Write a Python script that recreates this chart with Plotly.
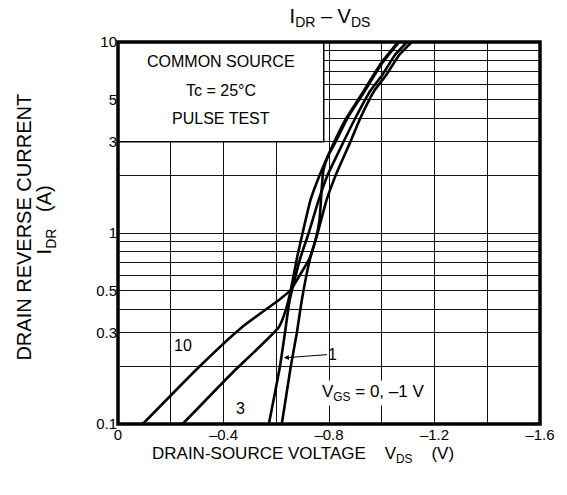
import math
import plotly.graph_objects as go

FONT = "Liberation Sans, Arial, Helvetica, sans-serif"

# -----------------------------
# DATA
# -----------------------------
# V_GS = 10 V
vds_10 = [-0.094, -0.309, -0.471, -0.610, -0.655, -0.685, -0.723, -0.749, -0.764,
          -0.772, -0.779, -0.798, -0.825, -0.870, -0.926, -1.002, -1.066]
idr_10 = [0.1, 0.2, 0.322, 0.446, 0.503, 0.588, 0.722, 0.919, 1.17,
          1.68, 2.14, 2.56, 3.0, 4.0, 5.28, 7.76, 10]

# V_GS = 3 V
vds_3 = [-0.245, -0.433, -0.610, -0.636, -0.655, -0.681, -0.700, -0.730, -0.764,
         -0.820, -0.866, -0.922, -0.998, -1.062]
idr_3 = [0.1, 0.185, 0.322, 0.395, 0.503, 0.767, 1.0, 1.49, 2.0,
         3.0, 4.0, 5.28, 7.76, 10]

# V_GS = 1 V
vds_1 = [-0.572, -0.614, -0.633, -0.651, -0.689, -0.723, -0.761, -0.794,
         -0.855, -0.900, -0.956, -1.002, -1.050, -1.096]
idr_1 = [0.1, 0.2, 0.3, 0.446, 0.722, 1.0, 1.49, 2.0,
         3.0, 4.0, 5.54, 6.72, 8.55, 10]

# V_GS = 0, -1 V
vds_0 = [-0.621, -0.655, -0.678, -0.697, -0.727, -0.757, -0.791, -0.825,
         -0.881, -0.919, -0.971, -1.017, -1.066, -1.114]
idr_0 = [0.1, 0.2, 0.3, 0.446, 0.722, 1.0, 1.49, 2.0,
         3.0, 4.0, 5.54, 6.72, 8.55, 10]

x_grid = [0, -0.2, -0.4, -0.6, -0.8, -1.0, -1.2, -1.4, -1.6]
x_labels = ["0", "", "–0.4", "", "–0.8", "", "–1.2", "", "–1.6"]

y_grid = [0.1, 0.2, 0.3, 0.4, 0.5, 0.6, 0.7, 0.8, 0.9,
          1, 2, 3, 4, 5, 6, 7, 8, 9, 10]
y_labels = ["0.1", "", "0.3", "", "0.5", "", "", "", "",
            "1", "", "3", "", "5", "", "", "", "", "10"]

fig = go.Figure()

for xs, ys in [(vds_10, idr_10), (vds_3, idr_3), (vds_1, idr_1), (vds_0, idr_0)]:
    fig.add_trace(go.Scatter(
        x=xs, y=ys, mode="lines",
        line=dict(color="black", width=2.6, shape="spline", smoothing=0.5),
        showlegend=False, hoverinfo="skip"
    ))

# page body has an 8px margin, so the figure is 8px smaller than the window
fig.update_layout(
    width=559, height=487, autosize=False,
    margin=dict(l=110, r=24, t=34, b=71),
    paper_bgcolor="white", plot_bgcolor="white",
    font=dict(family=FONT, size=16, color="black"),
    title=dict(text="I<sub>DR</sub> – V<sub>DS</sub>", x=0.576, xanchor="center",
               y=0.9836, yanchor="middle", font=dict(size=20)),
)

fig.update_xaxes(
    range=[0, -1.6], tickvals=x_grid, ticktext=x_labels,
    showgrid=True, gridcolor="#111", gridwidth=1, zeroline=False,
    ticks="", tickfont=dict(size=15), showline=False,
)
fig.update_yaxes(
    type="log", range=[-1, 1], tickvals=y_grid, ticktext=y_labels,
    showgrid=True, gridcolor="#111", gridwidth=1, zeroline=False,
    ticks="", tickfont=dict(size=15), showline=False,
)

# condition box in the upper left corner, hides the grid
fig.add_shape(type="rect", xref="x", yref="paper", x0=0, x1=-0.78,
              y0=(math.log10(3) + 1) / 2, y1=1,
              fillcolor="white", line=dict(color="black", width=1.5))
# heavy frame
fig.add_shape(type="rect", xref="paper", yref="paper", x0=0, x1=1, y0=0, y1=1,
              line=dict(color="black", width=3.5))

box_lines = ["COMMON SOURCE", "Tc = 25°C", "PULSE TEST"]
box_y = [0.950, 0.874, 0.801]
for t, yy in zip(box_lines, box_y):
    fig.add_annotation(text=t, xref="x", yref="paper", x=-0.392, y=yy,
                       yanchor="middle", showarrow=False, font=dict(size=16))

# curve labels
fig.add_annotation(text="10", x=-0.248, y=math.log10(0.259), showarrow=False,
                   bgcolor="white", font=dict(size=16))
fig.add_annotation(text="3", x=-0.463, y=math.log10(0.121), showarrow=False,
                   font=dict(size=16))
fig.add_annotation(text="1", x=-0.629, y=math.log10(0.222),
                   ax=-0.815, ay=math.log10(0.232), axref="x", ayref="y",
                   showarrow=True, arrowhead=2, arrowsize=1, arrowwidth=1,
                   arrowcolor="black", font=dict(size=16))
fig.add_annotation(text="V<sub>GS</sub> = 0, –1 V", x=-0.968, y=math.log10(0.145),
                   showarrow=False, bgcolor="white", font=dict(size=17))

# axis titles
fig.add_annotation(text="DRAIN-SOURCE VOLTAGE    V<sub>DS</sub>    (V)",
                   xref="paper", yref="paper", x=0.438, y=-0.081,
                   xanchor="center", yanchor="middle",
                   showarrow=False, font=dict(size=17))
fig.add_annotation(text="DRAIN REVERSE CURRENT",
                   xref="paper", yref="paper", x=-0.2235, y=0.516, textangle=-90,
                   xanchor="center", yanchor="middle",
                   showarrow=False, font=dict(size=20))
fig.add_annotation(text="I<sub>DR</sub>   (A)",
                   xref="paper", yref="paper", x=-0.172, y=0.534, textangle=-90,
                   xanchor="center", yanchor="middle",
                   showarrow=False, font=dict(size=20))

fig.write_html("out.html")
